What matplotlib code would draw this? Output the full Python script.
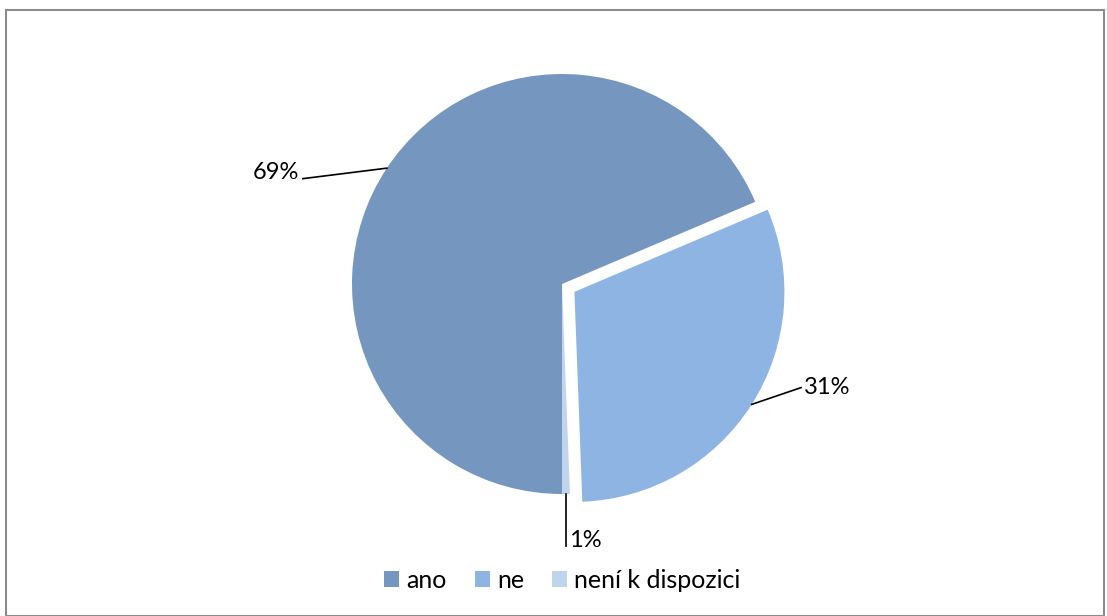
import numpy as np
import matplotlib
matplotlib.use("Agg")
import matplotlib.pyplot as plt
from matplotlib.patches import Rectangle

labels = ["ano", "ne", "není k dispozici"]
values = [68.6, 30.8, 0.6]
pct_text = ["69%", "31%", "1%"]
colors = ["#7596BF", "#8EB4E3", "#C0D4EE"]
explode = [0, 0.07, 0]

plt.rcParams['font.family'] = ['Lato', 'DejaVu Sans']

W, H = 1107, 616
cx, cy, R = 562, 284, 210

fig = plt.figure(figsize=(W / 100, H / 100), dpi=100)
ax = fig.add_axes([0, 0, 1, 1])

wedges, _ = ax.pie(values, colors=colors, explode=explode, startangle=270,
                   counterclock=False, radius=1, center=(0, 0),
                   wedgeprops=dict(linewidth=0))

ax.set_xlim(-cx / R, (W - cx) / R)
ax.set_ylim(-(H - cy) / R, cy / R)
ax.set_aspect('equal')
ax.axis('off')

# data labels with leader lines (text offsets relative to wedge edge)
text_offsets = [(-0.42, -0.02), (0.25, 0.08), (0.02, -0.22)]
text_align = [("right", "center"), ("left", "center"), ("left", "center")]
for w, txt, (ox, oy), (ha, va) in zip(wedges, pct_text, text_offsets, text_align):
    mid = np.deg2rad((w.theta1 + w.theta2) / 2)
    ex, ey = w.center
    px, py = ex + np.cos(mid), ey + np.sin(mid)
    tx, ty = px + ox, py + oy
    if ha == "right":
        lx = tx + 0.02
    else:
        lx = tx - 0.015
    if txt == "1%":
        ax.plot([px, px], [py, ty - 0.03], color="black", lw=1.2)
        ax.text(px + 0.015, ty, txt, ha="left", va="center", fontsize=17)
    else:
        ax.plot([px, lx], [py, ty - 0.03 if ha == "right" else ty], color="black", lw=1.2)
        ax.text(tx, ty, txt, ha=ha, va=va, fontsize=17)

leg = ax.legend(wedges, labels, loc="center", bbox_to_anchor=(0.508, 0.058),
                ncol=3, frameon=False, fontsize=18, handlelength=0.6,
                handleheight=0.6, handletextpad=0.3, columnspacing=1.1)

fig.add_artist(Rectangle((6 / W, 0), (1104 - 6) / W, (H - 10) / H,
                         transform=fig.transFigure, fill=False,
                         edgecolor="#8c8c8c", lw=1.5))

fig.savefig("out.png", dpi=100)
